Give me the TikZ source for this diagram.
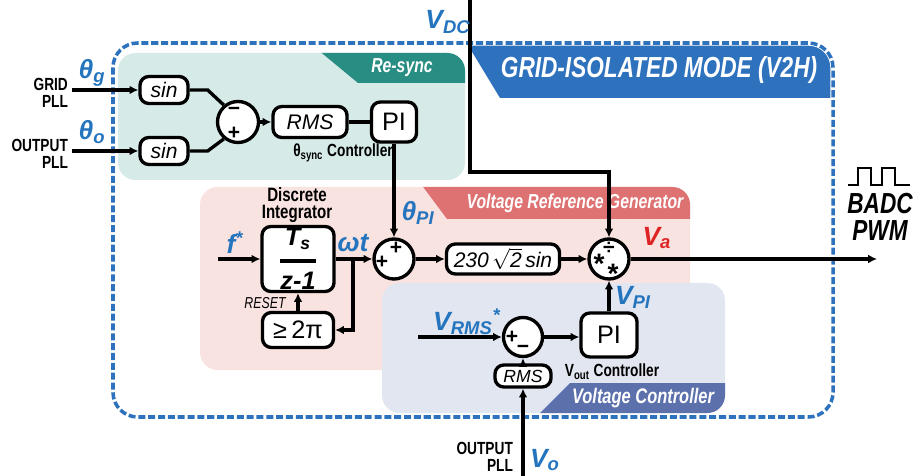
\documentclass[tikz,border=0pt]{standalone}
\usepackage{amsmath}
\usepackage{fontspec}
\setmainfont{Liberation Sans}
\newfontfamily\condfont{Liberation Sans}[FakeStretch=0.78]
\usetikzlibrary{arrows.meta}
\definecolor{modeblue}{RGB}{46,114,190}
\definecolor{sigblue}{RGB}{36,116,190}
\definecolor{sigred}{RGB}{222,36,36}
\definecolor{syncfill}{RGB}{214,234,232}
\definecolor{synctab}{RGB}{40,142,132}
\definecolor{vrgfill}{RGB}{249,227,224}
\definecolor{vrgtab}{RGB}{222,114,114}
\definecolor{vcfill}{RGB}{226,230,240}
\definecolor{vctab}{RGB}{92,112,172}

\tikzset{
  blk/.style={draw, line width=1.9pt, rounded corners=5pt, fill=white, inner sep=1pt, font=\large\itshape},
  sumc/.style={draw, circle, line width=1.9pt, fill=white, minimum size=0.8cm, inner sep=0pt},
  wire/.style={line width=1.9pt},
  sig/.style={line width=1.9pt, -{Latex[length=5pt,width=5pt]}},
  lbl/.style={text=sigblue, font=\bfseries\itshape\fontsize{15}{15}\selectfont, inner sep=1pt},
  note/.style={font=\condfont\bfseries\fontsize{10}{9.5}\selectfont, align=center, inner sep=1pt},
  tabtxt/.style={text=white, font=\condfont\bfseries\itshape\fontsize{11.5}{11.5}\selectfont},
  sgn/.style={font=\bfseries\fontsize{12}{12}\selectfont, inner sep=0pt},
}

\begin{document}
\begin{tikzpicture}[x=0.2mm, y=-0.2mm]
\useasboundingbox (0,0) rectangle (914,476);

% Voltage reference generator region
\fill[vrgfill, rounded corners=10pt] (200,187) rectangle (690,370);
\begin{scope}
  \clip[rounded corners=10pt] (200,187) rectangle (690,370);
  \fill[vrgtab] (415,176) -- (700,176) -- (700,219) -- (447,219) -- cycle;
\end{scope}
\node[tabtxt] (vrgname) at (575,203) {Voltage Reference Generator};

% Voltage controller region
\fill[vcfill, rounded corners=10pt] (382,283) rectangle (725,413);
\begin{scope}
  \clip[rounded corners=10pt] (382,283) rectangle (725,413);
  \fill[vctab] (570,383) -- (740,383) -- (740,430) -- (523,430) -- cycle;
\end{scope}
\node[tabtxt, font=\condfont\bfseries\itshape\fontsize{12}{12}\selectfont] (vcname) at (643,398) {Voltage Controller};

% Re-sync region
\fill[syncfill, rounded corners=10pt] (118,53) rectangle (465,180);
\begin{scope}
  \clip[rounded corners=10pt] (118,53) rectangle (465,180);
  \fill[synctab] (306,40) -- (480,40) -- (480,83) -- (358,83) -- cycle;
\end{scope}
\node[tabtxt] (syncname) at (402,68) {Re-sync};

% Mode banner and dashed border
\begin{scope}
  \clip[rounded corners=14pt] (113,43) rectangle (833,417);
  \fill[modeblue] (460,32) -- (850,32) -- (850,98) -- (500,98) -- cycle;
\end{scope}
\node[text=white, font=\condfont\bfseries\itshape\fontsize{16.5}{16.5}\selectfont] (modename) at (659,70) {GRID-ISOLATED MODE (V2H)};
\draw[white, line width=3pt, rounded corners=14pt] (113,43) rectangle (833,417);
\draw[modeblue, line width=2pt, dash pattern=on 4pt off 1.6pt, rounded corners=14pt] (113,43) rectangle (833,417);

% Blocks
\node[blk, minimum width=0.96cm, minimum height=0.54cm] (sinG) at (164,90) {sin};
\node[blk, minimum width=0.96cm, minimum height=0.54cm] (sinO) at (164,151) {sin};
\node[sumc, minimum size=0.82cm] (sum1) at (238,122) {};
\node[blk, minimum width=1.48cm, minimum height=0.62cm] (rms1) at (310,122) {RMS};
\node[blk, font=\Large, minimum width=0.9cm, minimum height=0.8cm] (pi1) at (394,122) {PI};

\node[blk, font=\bfseries\itshape\Large, minimum width=1.44cm, minimum height=1.3cm] (integ) at (298,259)
  {$\genfrac{}{}{1.8pt}{0}{\mbox{T\textsubscript{s}}}{\mbox{z-1}}$};
\node[sumc] (sum2) at (394,259) {};
\node[blk, minimum width=2.26cm, minimum height=0.6cm] (gain) at (503,259) {230\,$\sqrt{\mbox{\itshape 2}}$\,sin};
\node[sumc] (mult) at (609,259) {};
\node[blk, font=\Large, minimum width=1.42cm, minimum height=0.7cm] (wrap) at (298,330) {≥\,2π};

\node[sumc, minimum size=0.78cm] (sum3) at (523,337) {};
\node[blk, font=\Large, minimum width=1.12cm, minimum height=0.88cm] (pi2) at (609,335) {PI};
\node[blk, font=\itshape, minimum width=1.12cm, minimum height=0.44cm] (rms2) at (523,376) {RMS};

% Signs
\foreach \n/\p/\t in {sa/{(234,111)}/−, sb/{(234,133)}/+, sc/{(382,262)}/+, sd/{(396,248)}/+,
                      se/{(609,248)}/÷, sh/{(512,337)}/+, si/{(523,349)}/−}
  \node[sgn] (\n) at \p {\t};
\foreach \n/\p in {sf/{(599,264)}, sg/{(613,274)}}
  \node[sgn, font=\bfseries\fontsize{16}{16}\selectfont] (\n) at \p {*};

% Connectors
\coordinate (gridin) at (72,90);
\coordinate (outin) at (72,151);
\draw[sig] (gridin) -- (sinG.west);
\draw[sig] (outin) -- (sinO.west);
\draw[wire] (sinG.east) -- ++(18,0) -- (sum1.130);
\draw[wire] (sinO.east) -- ++(18,0) -- (sum1.230);
\draw[sig] (sum1) -- (rms1);
\draw[wire] (rms1) -- (pi1);
\draw[sig] (pi1) -- (sum2);

\coordinate (fin) at (218,259);
\coordinate (tap) at (353,259);
\draw[sig] (fin) -- (integ);
\draw[sig] (integ) -- (sum2);
\draw[sig] (tap) |- (wrap.east);
\draw[sig] (wrap) -- (integ);
\draw[sig] (sum2) -- (gain);
\draw[sig] (gain) -- (mult);

\coordinate (vdc) at (470,0);
\coordinate (vdcturn) at (470,172);
\draw[sig] (vdc) -- (vdcturn) -| (mult.north);
\coordinate (pwmout) at (877,259);
\draw[sig] (mult) -- (pwmout);

\coordinate (vrin) at (418,337);
\coordinate (voin) at (523,476);
\draw[sig] (vrin) -- (sum3);
\draw[sig] (sum3) -- (sum3 -| pi2.west);
\draw[sig] (pi2) -- (mult);
\draw[sig] (rms2) -- (sum3);
\draw[sig] (voin) -- (rms2);

% Labels
\node[note, anchor=east, align=right] (gridpll) at (70,93) {GRID\\PLL};
\node[note, anchor=east, align=right] (outpll) at (70,154) {OUTPUT\\PLL};
\node[lbl] (thg) at (92,73) {θ\textsubscript{g}};
\node[lbl] (tho) at (92,132) {θ\textsubscript{o}};
\node[note] (syncctl) at (343,153) {θ\textsubscript{sync} Controller};
\node[note, font=\condfont\bfseries\fontsize{11}{10}\selectfont] (integname) at (297,205) {Discrete\\Integrator};
\node[lbl] (fref) at (235,243) {f\textsuperscript{*}};
\node[lbl] (wt) at (353,243) {ωt};
\node[lbl] (thpi) at (418,213) {θ\textsubscript{PI}};
\node[lbl, text=sigred] (va) at (657,238) {V\textsubscript{a}};
\node[lbl] (vpi) at (633,297) {V\textsubscript{PI}};
\node[lbl] (vrms) at (467,322) {V\textsubscript{RMS}\textsuperscript{*}};
\node[lbl] (vdclbl) at (448,22) {V\textsubscript{DC}};
\node[lbl] (volbl) at (545,460) {V\textsubscript{o}};
\node[note, anchor=east, align=right] (outpll2) at (515,457) {OUTPUT\\PLL};
\node[note] (voutctl) at (612,372) {V\textsubscript{out} Controller};
\node[font=\condfont\itshape\fontsize{9}{9}\selectfont] (resetlbl) at (265,303) {RESET};
\node[font=\condfont\bfseries\itshape\fontsize{16.5}{16.5}\selectfont, inner sep=0pt] (badc) at (880,204) {BADC};
\node[font=\condfont\bfseries\itshape\fontsize{16.5}{16.5}\selectfont, inner sep=0pt] (pwm) at (880,231) {PWM};

% PWM pulse symbol
\draw[line width=1.4pt] (848,185) -- (858,185) -- (858,168) -- (871,168) -- (871,185) -- (882,185)
  -- (882,168) -- (895,168) -- (895,185) -- (910,185);

\end{tikzpicture}
\end{document}
